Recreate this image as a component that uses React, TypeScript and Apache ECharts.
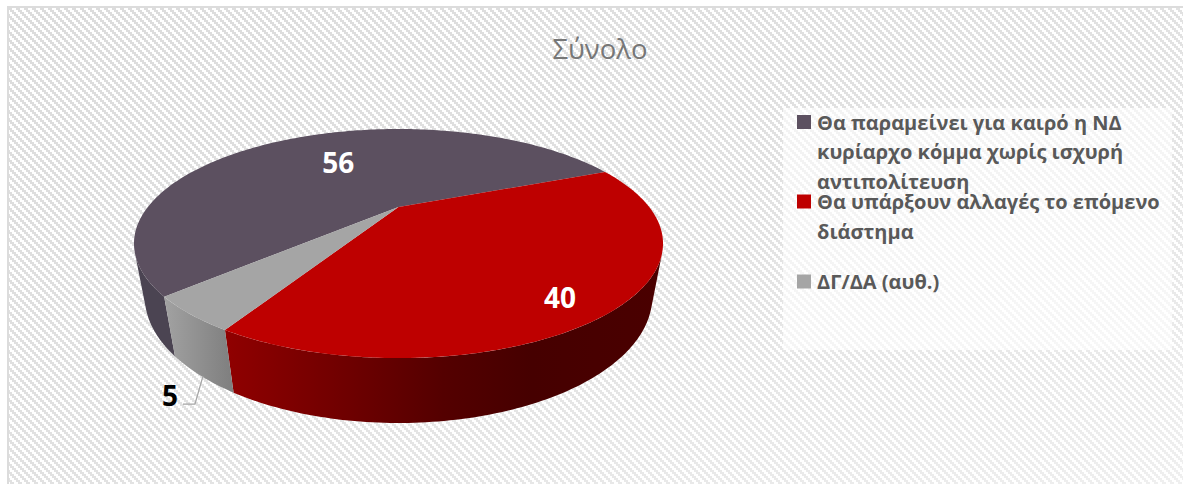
import React, { useEffect, useRef } from "react";
import * as echarts from "echarts";

const categories = [
  "Θα παραμείνει για καιρό η ΝΔ κυρίαρχο κόμμα χωρίς ισχυρή αντιπολίτευση",
  "Θα υπάρξουν αλλαγές το επόμενο διάστημα",
  "ΔΓ/ΔΑ (αυθ.)",
];
// the labels show them rounded (56, 40, 5)
const values = [55.7, 39.6, 4.7];
const legendLines = [
  ["Θα παραμείνει για καιρό η ΝΔ", "κυρίαρχο κόμμα χωρίς ισχυρή", "αντιπολίτευση"],
  ["Θα υπάρξουν αλλαγές το επόμενο", "διάστημα"],
  ["ΔΓ/ΔΑ (αυθ.)"],
];
const titleText = "Σύνολο";

// ----- styles and layout, separate from the data -----
const topColors = ["#5c5060", "#be0000", "#a5a5a5"];
const wallStops: [number, string][][] = [
  [[0, "#4b4452"], [1, "#4b4452"]],
  [[0, "#900000"], [0.25, "#720000"], [0.5, "#540000"], [0.7, "#460000"], [1, "#4a0000"]],
  [[0, "#a2a2a2"], [1, "#7e7e7e"]],
];
const FIRST_SLICE_DEG = 227;
// homography of the pie's top and base discs on the page
const P = { cx: 398.5, y0: 207, A: 250.7, B: 102.9, k: 0.319, D: 52.4, E: 0.038 };
const labelPlace = [
  { r: 0.568, shift: 3.35, color: "#ffffff", leader: false },
  { r: 0.853, shift: 5.1, color: "#ffffff", leader: false },
  { r: 1.293, shift: -12.15, color: "#000000", leader: true },
];
const legendCfg = { iconX: 797, textX: 817, firstY: [122, 201.5, 281.5], lh: 29.5, size: 14 };

const project = (deg: number, r: number, level: number): [number, number] => {
  const t = (deg * Math.PI) / 180;
  const u = r * Math.sin(t);
  const v = -r * Math.cos(t);
  const w = 1 - P.k * v + P.E * level;
  return [P.cx + (P.A * u) / w, P.y0 + (P.B * v + P.D * level) / w];
};

const arc = (a: number, b: number, level: number) => {
  const pts: [number, number][] = [];
  const n = Math.max(2, Math.ceil(Math.abs(b - a)));
  for (let i = 0; i <= n; i++) pts.push(project(a + ((b - a) * i) / n, 1, level));
  return pts;
};

// wall faces the viewer where the rim's tangent and the vertical edge turn one way
const facesViewer = (deg: number) => {
  const p = project(deg, 1, 0);
  const q = project(deg + 0.5, 1, 0);
  const b = project(deg, 1, 1);
  return (q[0] - p[0]) * (b[1] - p[1]) - (q[1] - p[1]) * (b[0] - p[0]) < 0;
};
let visLo = 180;
while (facesViewer(visLo - 0.5)) visLo -= 0.5;
let visHi = 180;
while (facesViewer(visHi + 0.5)) visHi += 0.5;

const visibleRange = (a: number, b: number): [number, number] | null => {
  for (const s of [-360, 0, 360, 720]) {
    const lo = Math.max(a, visLo + s);
    const hi = Math.min(b, visHi + s);
    if (hi > lo) return [lo, hi];
  }
  return null;
};

const total = values.reduce((s, x) => s + x, 0);

const renderSlice = (params: any, api: any) => {
  const i = params.dataIndex;
  const before = values.slice(0, i).reduce((s, x) => s + x, 0);
  const a0 = FIRST_SLICE_DEG + (before / total) * 360;
  const val = api.value(0) as number;
  const a1 = a0 + (val / total) * 360;
  const mid = (a0 + a1) / 2;
  const topArc = arc(a0, a1, 0);
  const place = labelPlace[i];
  const [lx, ly0] = project(mid + place.shift, place.r, 0);
  const ly = ly0 - 1;
  const children: any[] = [
    {
      type: "polygon",
      z2: 10,
      shape: { points: [project(0, 0, 0), ...topArc] },
      style: { fill: topColors[i] },
    },
    {
      type: "text",
      z2: 20,
      style: {
        text: String(Math.round(val)),
        x: lx,
        y: ly,
        align: "center",
        verticalAlign: "middle",
        fill: place.color,
        font: "bold 28px 'Open Sans'",
      },
    },
  ];
  const vis = visibleRange(a0, a1);
  if (vis) {
    children.push({
      type: "polygon",
      z2: 1,
      shape: { points: [...arc(vis[0], vis[1], 0), ...arc(vis[0], vis[1], 1).reverse()] },
      style: {
        fill: new echarts.graphic.LinearGradient(
          0, 0, 1, 0,
          wallStops[i].map(([offset, color]) => ({ offset, color }))
        ),
      },
    });
  }
  if (place.leader) {
    children.push({
      type: "polyline",
      z2: 5,
      shape: { points: [[lx + 13, ly + 9], [lx + 25, ly + 9], [lx + 33, ly - 19]] },
      style: { stroke: "#a6a6a6", lineWidth: 1.2, fill: "none" },
    });
  }
  return { type: "group", children };
};

const makeTile = () => {
  const c = document.createElement("canvas");
  c.width = 8;
  c.height = 8;
  const g = c.getContext("2d")!;
  g.fillStyle = "#ffffff";
  g.fillRect(0, 0, 8, 8);
  g.fillStyle = "#dcdcdc";
  for (let y = 0; y < 8; y += 2)
    for (let x = 0; x < 8; x += 2)
      if ((((x - y) / 2) % 4 + 4) % 4 < 2) g.fillRect(x, y, 2, 2);
  return c;
};

export default function App() {
  const ref = useRef<HTMLDivElement>(null);
  useEffect(() => {
    document.body.style.margin = "0";
    document.body.style.background = "#ffffff";
    const chart = echarts.init(ref.current!, undefined, { renderer: "svg" });
    const legendGraphics: any[] = [];
    legendLines.forEach((lines, i) => {
      legendGraphics.push({
        type: "rect",
        z: 10,
        shape: {
          x: legendCfg.iconX,
          y: legendCfg.firstY[i] - legendCfg.size / 2,
          width: legendCfg.size,
          height: legendCfg.size,
        },
        style: { fill: topColors[i] },
      });
      legendGraphics.push({
        type: "text",
        z: 10,
        x: legendCfg.textX,
        y: legendCfg.firstY[i] - legendCfg.lh / 2,
        style: {
          text: lines.join("\n"),
          font: "bold 20px 'Open Sans'",
          lineHeight: legendCfg.lh,
          fill: "#595959",
          verticalAlign: "top",
        },
      });
    });
    chart.setOption({
      animation: false,
      tooltip: { show: false },
      title: {
        text: titleText,
        left: 595,
        top: 29,
        textAlign: "center",
        textStyle: { fontFamily: "'Open Sans'", fontSize: 27.5, fontWeight: "normal", color: "#777777" },
      },
      graphic: [
        {
          type: "rect",
          z: -10,
          shape: { x: 8, y: 7, width: 1175, height: 477 },
          style: { fill: { image: makeTile(), repeat: "repeat" } as any },
        },
        {
          type: "rect",
          z: -9,
          shape: { x: 8, y: 7, width: 1175, height: 477 },
          style: {
            fill: new echarts.graphic.LinearGradient(0, 0, 1, 1, [
              { offset: 0, color: "rgba(255,255,255,0)" },
              { offset: 0.5, color: "rgba(255,255,255,0.15)" },
              { offset: 1, color: "rgba(255,255,255,0.55)" },
            ]),
          },
        },
        {
          type: "rect",
          z: -8,
          shape: { x: 783, y: 108, width: 389, height: 242 },
          style: { fill: "rgba(255,255,255,0.6)" },
        },
        {
          type: "polyline",
          z: -7,
          shape: { points: [[8, 484], [8, 7], [1183, 7]] },
          style: { stroke: "#dcdcdc", lineWidth: 2, fill: "none" },
        },
        ...legendGraphics,
      ],
      series: [
        {
          type: "custom",
          name: titleText,
          coordinateSystem: "none",
          renderItem: renderSlice,
          data: values.map((v, i) => ({ name: categories[i], value: [v] })),
          silent: true,
        },
      ],
    });
    return () => chart.dispose();
  }, []);
  return <div ref={ref} style={{ width: 1183, height: 484, position: "absolute", left: 0, top: 0, overflow: "hidden" }} />;
}
